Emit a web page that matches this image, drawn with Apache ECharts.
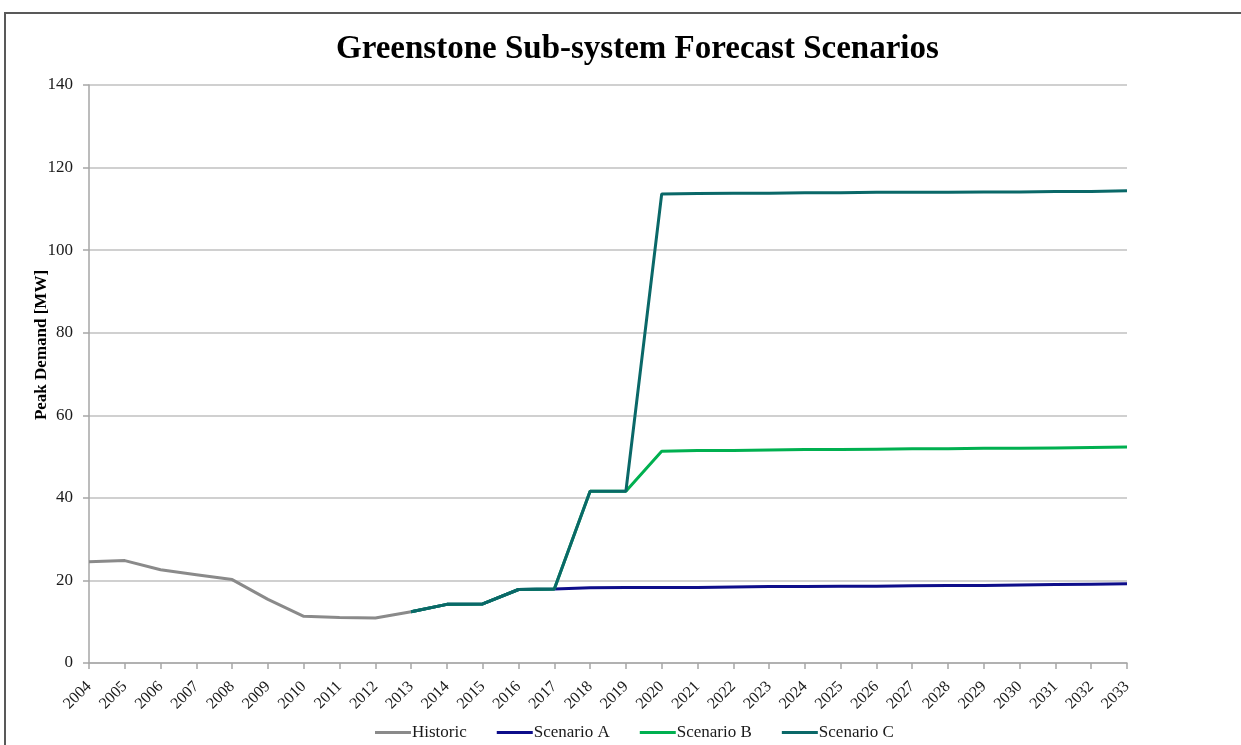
<!DOCTYPE html>
<html>
<head>
<meta charset="utf-8">
<title>Greenstone Sub-system Forecast Scenarios</title>
<script src="https://cdn.jsdelivr.net/npm/echarts@6/dist/echarts.min.js"></script>
<style>
  html, body { margin: 0; padding: 0; background: #ffffff; }
  #chart { width: 1241px; height: 745px; }
</style>
</head>
<body>
<div id="chart"></div>
<script>
// Years on the category axis
const years = ['2004','2005','2006','2007','2008','2009','2010','2011','2012','2013','2014','2015','2016','2017','2018','2019','2020','2021','2022','2023','2024','2025','2026','2027','2028','2029','2030','2031','2032','2033'];

// Peak demand [MW]; null where a series has no value
const historic = [24.5, 24.8, 22.6, 21.4, 20.2, 15.4, 11.3, 11.0, 10.9, 12.4,
  null, null, null, null, null, null, null, null, null, null, null, null, null, null, null, null, null, null, null, null];
const scenarioA = [null, null, null, null, null, null, null, null, null,
  12.4, 14.2, 14.3, 17.8, 17.9, 18.2, 18.3, 18.3, 18.3, 18.4, 18.5, 18.5, 18.6, 18.6, 18.7, 18.8, 18.8, 18.9, 19.0, 19.1, 19.2];
const scenarioB = [null, null, null, null, null, null, null, null, null,
  12.4, 14.2, 14.3, 17.8, 17.9, 41.6, 41.6, 51.3, 51.5, 51.5, 51.6, 51.7, 51.7, 51.8, 51.9, 51.9, 52.0, 52.0, 52.1, 52.2, 52.3];
const scenarioC = [null, null, null, null, null, null, null, null, null,
  12.4, 14.2, 14.3, 17.8, 17.9, 41.6, 41.6, 113.6, 113.7, 113.8, 113.8, 113.9, 113.9, 114.0, 114.0, 114.0, 114.1, 114.1, 114.2, 114.2, 114.4];

const yTicks = [0, 20, 40, 60, 80, 100, 120, 140];

const serif = '"Liberation Serif", "DejaVu Serif", serif';
const gridGray = '#c0c0c0';
const axisGray = '#a6a6a6';

const chart = echarts.init(document.getElementById('chart'), null, { renderer: 'canvas' });

function lineSeries(name, data, color) {
  return {
    name: name,
    type: 'line',
    data: data,
    symbol: 'none',
    connectNulls: false,
    lineStyle: { color: color, width: 3 },
    itemStyle: { color: color },
    emphasis: { disabled: true },
    animation: false
  };
}

chart.setOption({
  backgroundColor: '#ffffff',
  animation: false,
  graphic: [
    {
      // chart frame
      type: 'rect',
      shape: { x: 5, y: 13, width: 1260, height: 760 },
      style: { fill: 'none', stroke: '#595959', lineWidth: 2 },
      silent: true
    },
    {
      // y-axis title
      type: 'text',
      x: 42,
      y: 345,
      rotation: Math.PI / 2,
      style: {
        text: 'Peak Demand [MW]',
        fill: '#000000',
        font: 'bold 17px ' + serif,
        align: 'center',
        verticalAlign: 'middle'
      },
      silent: true
    }
  ],
  title: {
    text: 'Greenstone Sub-system Forecast Scenarios',
    left: 331,
    top: 28,
    textStyle: { fontFamily: serif, fontWeight: 'bold', fontSize: 33, color: '#000000' }
  },
  legend: {
    bottom: -1,
    left: 370,
    itemWidth: 36,
    itemHeight: 3,
    itemGap: 30,
    icon: 'rect',
    textStyle: { fontFamily: serif, fontSize: 17, color: '#1a1a1a', padding: [0, 0, 0, -4] },
    data: ['Historic', 'Scenario A', 'Scenario B', 'Scenario C']
  },
  grid: { left: 89, right: 114, top: 85, bottom: 82, containLabel: false },
  xAxis: {
    type: 'category',
    data: years,
    boundaryGap: false,
    axisLine: { lineStyle: { color: axisGray, width: 1.5 } },
    axisTick: { show: true, alignWithLabel: true, length: 6, lineStyle: { color: axisGray, width: 1.5 } },
    axisLabel: {
      interval: 0,
      rotate: 45,
      margin: 21,
      fontFamily: serif,
      fontSize: 16,
      color: '#1a1a1a'
    },
    splitLine: { show: false }
  },
  yAxis: {
    type: 'value',
    min: 0,
    max: 140,
    interval: 20,
    axisLine: { show: true, lineStyle: { color: axisGray, width: 1.5 } },
    axisTick: { show: true, length: 6, lineStyle: { color: axisGray, width: 1.5 } },
    axisLabel: {
      margin: 16,
      fontFamily: serif,
      fontSize: 17,
      color: '#1a1a1a',
      formatter: function (v) { return yTicks.indexOf(v) >= 0 ? String(v) : ''; }
    },
    splitLine: { show: true, lineStyle: { color: gridGray, width: 1.5 } }
  },
  series: [
    lineSeries('Historic', historic, '#8a8a8a'),
    lineSeries('Scenario A', scenarioA, '#0d0d8a'),
    lineSeries('Scenario B', scenarioB, '#00b050'),
    lineSeries('Scenario C', scenarioC, '#0a6868')
  ]
});
</script>
</body>
</html>
